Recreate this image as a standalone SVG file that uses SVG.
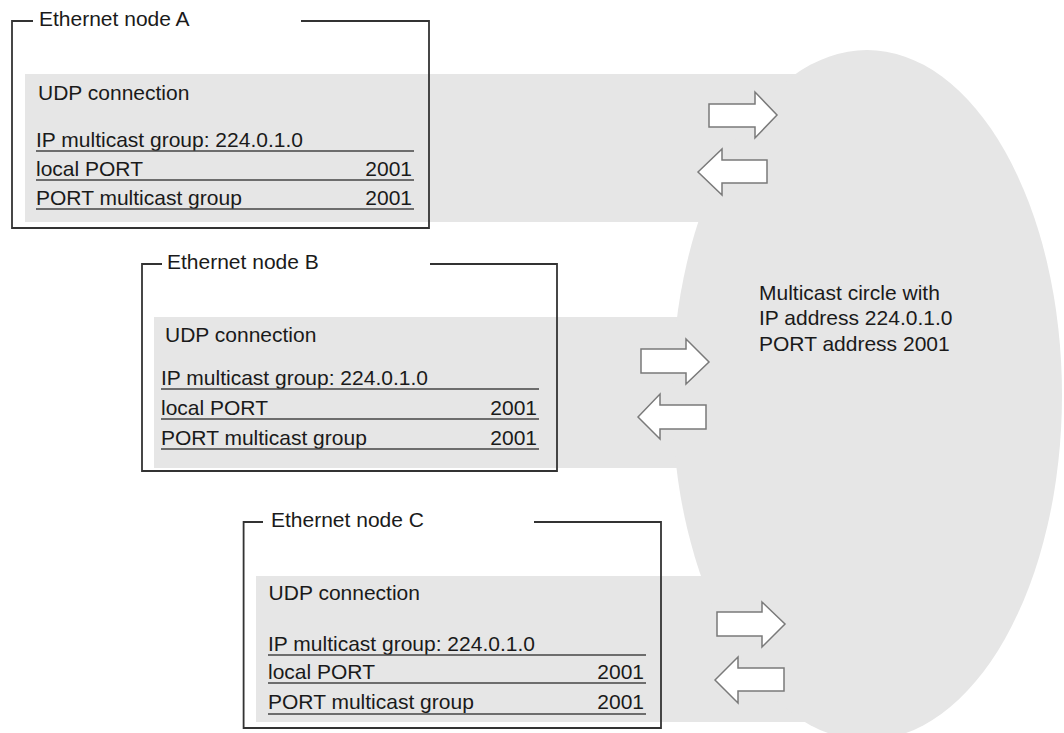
<svg xmlns="http://www.w3.org/2000/svg" width="1064" height="733" viewBox="0 0 1064 733">
<style>
  .bg { fill: #e6e6e6; stroke: none; }
  .frame { fill: none; stroke: #333333; stroke-width: 1.8; }
  .rule { stroke: #444444; stroke-width: 1.5; fill: none; }
  .t { font-family: "Liberation Sans", Arial, sans-serif; font-size: 21px; fill: #1a1a1a; }
  .r { text-anchor: end; }
  .arrow { fill: #ffffff; stroke: #7a7a7a; stroke-width: 1.5; stroke-linejoin: miter; }
</style>
<rect x="0" y="0" width="1064" height="733" fill="#ffffff"/>

<g id="node-a">
  <rect class="bg" x="25" y="74" width="850" height="148"/>
  <path class="frame" d="M33,21 H12 V228 H429 V21 H301"/>
  <text class="t" x="39" y="26">Ethernet node A</text>
  <text class="t" x="38" y="100">UDP connection</text>
  <text class="t" x="36" y="147">IP multicast group: 224.0.1.0</text>
  <line class="rule" x1="36" y1="151" x2="414" y2="151"/>
  <text class="t" x="36" y="176">local PORT</text>
  <text class="t r" x="412" y="176">2001</text>
  <line class="rule" x1="36" y1="180" x2="414" y2="180"/>
  <text class="t" x="36" y="205">PORT multicast group</text>
  <text class="t r" x="412" y="205">2001</text>
  <line class="rule" x1="36" y1="209" x2="414" y2="209"/>
</g>

<g id="node-b">
  <rect class="bg" x="154" y="317" width="720" height="151"/>
  <path class="frame" d="M162,264 H142 V471 H557 V264 H430"/>
  <text class="t" x="167" y="269">Ethernet node B</text>
  <text class="t" x="165" y="342">UDP connection</text>
  <text class="t" x="161" y="385">IP multicast group: 224.0.1.0</text>
  <line class="rule" x1="161" y1="389" x2="539" y2="389"/>
  <text class="t" x="161" y="415">local PORT</text>
  <text class="t r" x="537" y="415">2001</text>
  <line class="rule" x1="161" y1="419" x2="539" y2="419"/>
  <text class="t" x="161" y="445">PORT multicast group</text>
  <text class="t r" x="537" y="445">2001</text>
  <line class="rule" x1="161" y1="449" x2="539" y2="449"/>
</g>

<g id="node-c">
  <rect class="bg" x="256" y="576" width="620" height="146"/>
  <path class="frame" d="M263,522 H243.6 V728 H661 V522 H534"/>
  <text class="t" x="271" y="527">Ethernet node C</text>
  <text class="t" x="268.6" y="600">UDP connection</text>
  <text class="t" x="268" y="651">IP multicast group: 224.0.1.0</text>
  <line class="rule" x1="268" y1="655" x2="646" y2="655"/>
  <text class="t" x="268" y="679">local PORT</text>
  <text class="t r" x="644" y="679">2001</text>
  <line class="rule" x1="268" y1="683" x2="646" y2="683"/>
  <text class="t" x="268" y="709">PORT multicast group</text>
  <text class="t r" x="644" y="709">2001</text>
  <line class="rule" x1="268" y1="714" x2="646" y2="714"/>
</g>

<g id="multicast-circle">
  <ellipse class="bg" cx="867" cy="395" rx="195" ry="345"/>
  <text class="t" x="759" y="300">Multicast circle with</text>
  <text class="t" x="759" y="325">IP address 224.0.1.0</text>
  <text class="t" x="759" y="351">PORT address 2001</text>
</g>

<g id="connectors">
  <path class="arrow" d="M709,104 H755 V92 L777,115 L755,138 V127 H709 Z"/>
  <path class="arrow" d="M698,172 L722,149 V160 H767 V183 H722 V195 Z"/>
  <path class="arrow" d="M641,349 H686 V339 L709,362 L686,384 V373 H641 Z"/>
  <path class="arrow" d="M638,417 L660,394 V405 H706 V429 H660 V439 Z"/>
  <path class="arrow" d="M717,612 H762 V602 L785,624 L762,647 V636 H717 Z"/>
  <path class="arrow" d="M715,680 L738,657 V668 H784 V691 H738 V703 Z"/>
</g>
</svg>
